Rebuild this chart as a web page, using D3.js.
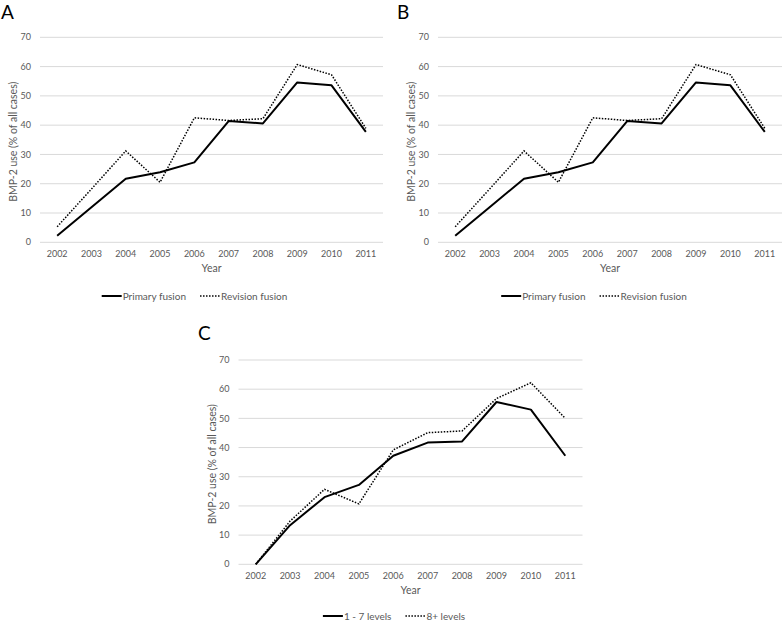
<!DOCTYPE html>
<html><head><meta charset="utf-8">
<script src="https://cdn.jsdelivr.net/npm/d3@7"></script>
<style>body{margin:0;background:#fff}svg{display:block}text{font-family:Lato,"Open Sans",sans-serif}</style>
</head><body><svg id="c" width="783" height="622"></svg>
<script>
const years = ["2002","2003","2004","2005","2006","2007","2008","2009","2010","2011"];
const yTicks = [0,10,20,30,40,50,60,70];
const primaryFusion = [2.2,12.0,21.7,23.9,27.3,41.4,40.6,54.6,53.6,37.7];
const revisionFusion = [5.3,18.2,31.2,20.5,42.5,41.6,42.2,60.7,57.2,38.9];
const levels1to7 = [0,13.4,23.0,27.2,37.2,41.7,42.1,55.6,53.0,37.2];
const levels8plus = [0,14.8,25.7,20.7,39.2,45.1,45.7,56.8,62.2,50.0];
const yTitle = "BMP-2 use (% of all cases)";
const xTitle = "Year";

const svg = d3.select("#c");

function panel(cfg){
  const g = svg.append("g");
  const x = d3.scalePoint().domain(years).range([cfg.x0,cfg.x1]).padding(0.5);
  const y = d3.scaleLinear().domain([0,70]).range([cfg.y0,cfg.y1]);
  g.selectAll("line.grid").data(yTicks).enter().append("line")
    .attr("x1",cfg.x0).attr("x2",cfg.x1)
    .attr("y1",d=>y(d)).attr("y2",d=>y(d))
    .attr("stroke","#d9d9d9").attr("stroke-width",1);
  g.selectAll("text.yt").data(yTicks).enter().append("text")
    .attr("x",cfg.x0-9).attr("y",d=>y(d)).attr("dy","0.35em")
    .attr("text-anchor","end").attr("font-size",9).attr("fill","#595959")
    .text(d=>d);
  g.selectAll("text.xt").data(years).enter().append("text")
    .attr("x",d=>x(d)).attr("y",y(0)+12).attr("dy","0.35em")
    .attr("text-anchor","middle").attr("font-size",9).attr("fill","#595959")
    .text(d=>d);
  g.append("text").attr("x",(cfg.x0+cfg.x1)/2).attr("y",y(0)+26).attr("dy","0.35em")
    .attr("text-anchor","middle").attr("font-size",10.5).attr("fill","#595959").text(xTitle);
  g.append("text").attr("transform",`translate(${cfg.ytx},${(y(0)+y(70))/2+2}) rotate(-90)`)
    .attr("dy","0.35em").attr("text-anchor","middle").attr("font-size",10.5).attr("fill","#595959").text(yTitle);
  g.append("text").attr("x",cfg.lx).attr("y",cfg.ly).attr("font-size",19).attr("fill","#000").text(cfg.letter);
  const line = d3.line().x((d,i)=>x(years[i])).y(d=>y(d));
  g.append("path").datum(cfg.s1).attr("d",line).attr("fill","none")
    .attr("stroke","#000").attr("stroke-width",2).attr("stroke-linejoin","round");
  g.append("path").datum(cfg.s2).attr("d",line).attr("fill","none")
    .attr("stroke","#000").attr("stroke-width",1.5).attr("stroke-dasharray","1.5,1.5");
  const ly = cfg.legY;
  const lg = g.append("g");
  const l1 = lg.append("line").attr("y1",ly).attr("y2",ly).attr("stroke","#000").attr("stroke-width",2);
  const t1 = lg.append("text").attr("y",ly).attr("dy","0.35em").attr("font-size",10).attr("fill","#595959").text(cfg.n1);
  const l2 = lg.append("line").attr("y1",ly).attr("y2",ly).attr("stroke","#000").attr("stroke-width",1.5).attr("stroke-dasharray","1.5,1.5");
  const t2 = lg.append("text").attr("y",ly).attr("dy","0.35em").attr("font-size",10).attr("fill","#595959").text(cfg.n2);
  const w1 = t1.node().getComputedTextLength(), w2 = t2.node().getComputedTextLength();
  const total = 20+1+w1+14+20+1+w2;
  let cx = cfg.legC - total/2;
  l1.attr("x1",cx).attr("x2",cx+20); cx+=21;
  t1.attr("x",cx); cx+=w1+14;
  l2.attr("x1",cx).attr("x2",cx+20); cx+=21;
  t2.attr("x",cx);
}

panel({letter:"A",lx:1,ly:19,x0:40,x1:383,y0:242.3,y1:37.3,ytx:13,legY:296,legC:194.5,
  s1:primaryFusion,s2:revisionFusion,n1:"Primary fusion",n2:"Revision fusion"});
panel({letter:"B",lx:397,ly:19,x0:438,x1:782,y0:242.3,y1:37.3,ytx:411.5,legY:296,legC:594,
  s1:primaryFusion,s2:revisionFusion,n1:"Primary fusion",n2:"Revision fusion"});
panel({letter:"C",lx:198,ly:340,x0:238.5,x1:582.5,y0:564.3,y1:360,ytx:212,legY:616,legC:394,
  s1:levels1to7,s2:levels8plus,n1:"1 - 7 levels",n2:"8+ levels"});
</script></body></html>
